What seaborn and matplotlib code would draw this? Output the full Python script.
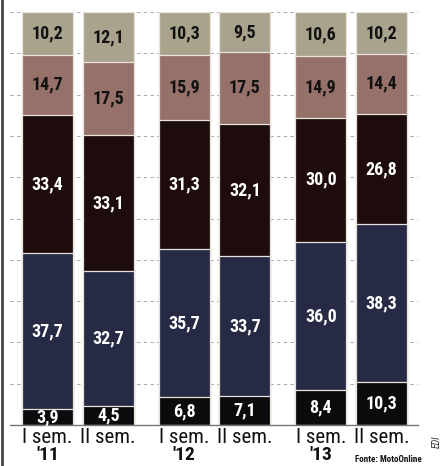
import matplotlib
matplotlib.use("Agg")
import matplotlib.pyplot as plt
import seaborn as sns
import numpy as np
from matplotlib import font_manager

periods = ["I sem.", "II sem.", "I sem.", "II sem.", "I sem.", "II sem."]
years = ["'11", "", "'12", "", "'13", ""]
positions = [0, 1, 2.25, 3.25, 4.5, 5.5]

seg_black = [3.9, 4.5, 6.8, 7.1, 8.4, 10.3]
seg_navy = [37.7, 32.7, 35.7, 33.7, 36.0, 38.3]
seg_brown = [33.4, 33.1, 31.3, 32.1, 30.0, 26.8]
seg_mauve = [14.7, 17.5, 15.9, 17.5, 14.9, 14.4]
seg_beige = [10.2, 12.1, 10.3, 9.5, 10.6, 10.2]

series = [seg_black, seg_navy, seg_brown, seg_mauve, seg_beige]
colors = ["#0b0a0c", "#272a44", "#1e0c0c", "#96716a", "#a9a28c"]
text_colors = ["white", "white", "white", "#111111", "#111111"]

sns.set_theme(style="white")
names = {f.name for f in font_manager.fontManager.ttflist}
narrow = None
for cand in ["Liberation Sans Narrow", "Roboto Condensed", "Open Sans Condensed",
             "DejaVu Sans Condensed"]:
    if cand in names:
        narrow = cand
        break
if narrow is None:
    narrow = "DejaVu Sans"
plt.rcParams["font.family"] = [narrow, "DejaVu Sans"]
plt.rcParams["font.stretch"] = "condensed"

fig = plt.figure(figsize=(4.44, 4.66), dpi=100)
ax = fig.add_axes([10 / 444, 41 / 466, 408 / 444, 413 / 466])

cum = np.cumsum(np.array(series), axis=0)
for i in range(len(series) - 1, -1, -1):
    sns.barplot(x=positions, y=list(cum[i]), color=colors[i], width=0.84,
                native_scale=True, ax=ax, edgecolor="#e8e4dc", linewidth=0.9,
                errorbar=None, saturation=1)

for i, s in enumerate(series):
    for j, v in enumerate(s):
        mid = cum[i][j] - v / 2
        ax.text(positions[j], mid, f"{v:.1f}".replace(".", ","), ha="center",
                va="center", color=text_colors[i], fontsize=13, fontweight="bold",
                fontstretch="condensed")

ax.set_xlim(-0.617, 6.1)
ax.set_ylim(0, 100)
ax.set_xticks([])
ax.set_yticks([])
for yv in range(10, 101, 10):
    ax.axhline(yv, color="#999999", lw=0.6, ls=(0, (4, 4)), zorder=0)
for side in ["top", "right", "left"]:
    ax.spines[side].set_visible(False)
ax.spines["bottom"].set_color("#777777")
ax.spines["bottom"].set_linewidth(1.0)

for j, p in enumerate(positions):
    ax.text(p, -0.8, periods[j], ha="center", va="top", fontsize=15,
            color="#111111", fontstretch="condensed")
    if years[j]:
        ax.text(p, -5.0, years[j], ha="center", va="top", fontsize=14,
                fontweight="bold", color="#111111", fontstretch="condensed")

fig.text(388 / 444, 1 - 459 / 466, "Fonte: MotoOnline", ha="center", va="center",
         fontsize=6.5, color="#111111", fontweight="bold", fontstretch="condensed")
fig.text(437 / 444, 1 - 442 / 466, "EDI", ha="center", va="center", rotation=90,
         fontsize=7, color="#333333", style="italic")
fig.add_artist(plt.Line2D([1.5 / 444, 1.5 / 444], [0, 1], color="#444444", lw=2,
                          transform=fig.transFigure))

fig.savefig("out.png", dpi=100)
